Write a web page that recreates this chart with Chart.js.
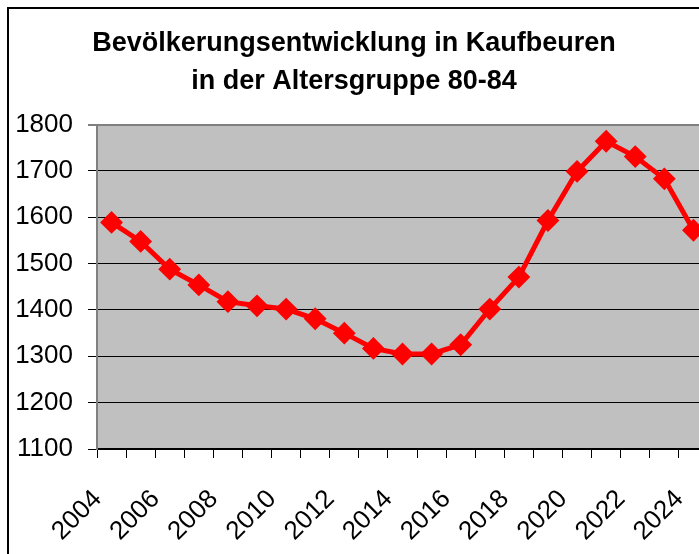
<!DOCTYPE html>
<html>
<head>
<meta charset="utf-8">
<script src="https://cdn.jsdelivr.net/npm/chart.js@4/dist/chart.umd.min.js"></script>
<style>
html,body{margin:0;padding:0;background:#fff;overflow:hidden;}
#wrap{position:relative;width:720px;height:554px;}
</style>
</head>
<body>
<div id="wrap"><canvas id="c" width="720" height="554"></canvas></div>
<script>
const titleLines = ['Bevölkerungsentwicklung in Kaufbeuren', 'in der Altersgruppe 80-84'];
const years = ['2004','2005','2006','2007','2008','2009','2010','2011','2012','2013','2014','2015','2016','2017','2018','2019','2020','2021','2022','2023','2024'];
const population = [1589,1548,1488,1454,1418,1409,1402,1381,1350,1317,1305,1305,1325,1402,1471,1593,1699,1764,1731,1683,1572];
const yMin = 1100, yMax = 1800, yStep = 100;

const framePlugin = {
  id: 'frame',
  beforeDraw(chart) {
    const ctx = chart.ctx, a = chart.chartArea;
    ctx.save();
    ctx.fillStyle = '#ffffff';
    ctx.fillRect(0, 0, chart.width, chart.height);
    ctx.fillStyle = '#000000';
    ctx.fillRect(7, 7, 2, chart.height);
    ctx.fillRect(7, 7, chart.width, 2);
    ctx.fillStyle = '#c0c0c0';
    ctx.fillRect(a.left, a.top, a.right - a.left, a.bottom - a.top);
    ctx.restore();
  }
};

new Chart(document.getElementById('c'), {
  type: 'line',
  data: {
    labels: years,
    datasets: [{
      data: population,
      borderColor: '#ff0000',
      backgroundColor: '#ff0000',
      borderWidth: 5,
      pointStyle: 'rectRot',
      pointRadius: 10,
      pointBorderWidth: 2,
      pointBackgroundColor: '#ff0000',
      pointBorderColor: '#ff0000',
      tension: 0,
      clip: false
    }]
  },
  options: {
    responsive: false,
    animation: false,
    devicePixelRatio: 1,
    layout: { padding: { left: 0, right: 12, top: 0, bottom: 0 } },
    plugins: {
      legend: { display: false },
      tooltip: { enabled: false },
      title: {
        display: true,
        text: titleLines,
        color: '#000',
        font: { family: 'Liberation Sans, Arial, sans-serif', size: 27, weight: 'bold', lineHeight: 1.4 },
        padding: { top: 25, bottom: 24 }
      }
    },
    scales: {
      x: {
        offset: true,
        afterFit(s) { s.height = 105; s.paddingLeft = 0; s.paddingRight = 0; },
        grid: { offset: true, drawOnChartArea: false, drawTicks: true, tickLength: 9, color: '#000', lineWidth: 1 },
        border: { color: '#000', width: 2 },
        ticks: {
          autoSkip: false,
          minRotation: 45,
          maxRotation: 45,
          labelOffset: -14,
          padding: 26,
          color: '#000',
          font: { family: 'Liberation Sans, Arial, sans-serif', size: 26 },
          callback(v, i) { return i % 2 === 0 ? years[i] : ''; }
        }
      },
      y: {
        min: yMin,
        max: yMax,
        afterFit(s) { s.width = 97; },
        grid: {
          drawTicks: true,
          tickLength: 9,
          color: (c) => c.tick && c.tick.value === yMax ? '#808080' : '#000',
          lineWidth: (c) => c.tick && c.tick.value === yMax ? 2 : 1
        },
        border: { color: '#808080', width: 2 },
        ticks: {
          stepSize: yStep,
          padding: 15,
          color: '#000',
          font: { family: 'Liberation Sans, Arial, sans-serif', size: 26 },
          callback(v) { return String(v); }
        }
      }
    }
  },
  plugins: [framePlugin]
});
</script>
</body>
</html>
